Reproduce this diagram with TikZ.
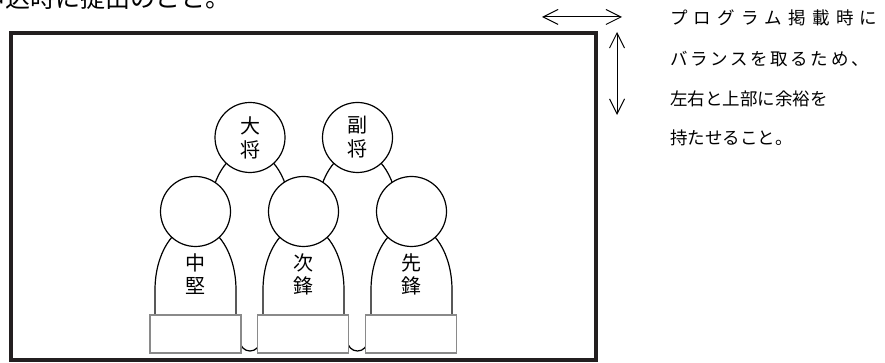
\documentclass[tikz,border=0pt]{standalone}
\usepackage{fontspec}
\setmainfont{Noto Sans CJK JP}
\usepackage{xcolor}
\usetikzlibrary{arrows.meta,positioning}
\definecolor{FrameBlack}{HTML}{231F20}
\definecolor{DeskGray}{HTML}{8A8A8A}
\tikzset{
  kdhead/.style={draw=black, fill=white, circle, minimum size=70pt, inner sep=0pt, line width=1.2pt, align=center, font=\fontsize{20}{24}\selectfont},
  kdbody/.style={draw=black, fill=white, line width=1.2pt},
  kdlabel/.style={align=center, inner sep=0pt, font=\fontsize{20}{23}\selectfont},
  kddesk/.style={draw=DeskGray, fill=white, line width=1.3pt, minimum width=91pt, minimum height=38pt, inner sep=0pt},
  kdframe/.style={draw=FrameBlack, line width=3.5pt},
  kdnote/.style={anchor=base west, inner sep=0pt, font=\fontsize{17.5}{20}\selectfont},
  kdarrow/.style={{Straight Barb[length=15pt,width=15pt]}-{Straight Barb[length=15pt,width=15pt]}, line width=1pt}
}
\begin{document}
\begin{tikzpicture}[x=1pt, y=1pt]
  \useasboundingbox (0,0) rectangle (885,363);
  \clip (0,0) rectangle (885,363);
  \node[anchor=base east, inner sep=0pt, font=\fontsize{25}{28}\selectfont] (deadline) at (231,355) {申込時に提出のこと。};
  \draw[kdframe] (11,3) rectangle (596,330);
  % back row
  \filldraw[kdbody] (209.5,22) -- (209.5,147) arc[start angle=180, end angle=0, x radius=40.5, y radius=65] -- (290.5,22) -- (260,22) arc[start angle=0, end angle=-180, radius=10] -- cycle;
  \filldraw[kdbody] (317,22) -- (317,147) arc[start angle=180, end angle=0, x radius=40.5, y radius=65] -- (398,22) -- (367.5,22) arc[start angle=0, end angle=-180, radius=10] -- cycle;
  \node[kdhead] (taisho) at (250,225.5) {大\\将};
  \node[kdhead] (fukusho) at (357.5,225.5) {副\\将};
  % front row
  \filldraw[kdbody] (155,48) -- (155,73) arc[start angle=180, end angle=0, x radius=40.5, y radius=65] -- (236,48);
  \filldraw[kdbody] (263,48) -- (263,73) arc[start angle=180, end angle=0, x radius=40.5, y radius=65] -- (344,48);
  \filldraw[kdbody] (371,48) -- (371,73) arc[start angle=180, end angle=0, x radius=40.5, y radius=65] -- (452,48);
  \node[kdhead] (chuken) at (195.5,151.5) {};
  \node[kdhead] (jiho) at (303.5,151.5) {};
  \node[kdhead] (senpo) at (411.5,151.5) {};
  \node[kdlabel] (chukenlbl) at (195.5,88.5) {中\\堅};
  \node[kdlabel] (jiholbl) at (303.5,88.5) {次\\鋒};
  \node[kdlabel] (senpolbl) at (411.5,88.5) {先\\鋒};
  \node[kddesk] (chukendesk) at (195.5,29) {};
  \node[kddesk] (jihodesk) at (303,29) {};
  \node[kddesk] (senpodesk) at (411,29) {};
  % margins note
  \coordinate (hleft) at (542,346);
  \coordinate (hright) at (622,346);
  \coordinate (vtop) at (617,331);
  \coordinate (vbottom) at (617,248);
  \draw[kdarrow] (hleft) -- (hright);
  \draw[kdarrow] (vtop) -- (vbottom);
  \node[kdnote] (note1) at (670,338) {\makebox[207pt][s]{プ ロ グ ラ ム 掲 載 時 に}};
  \node[kdnote] (note2) at (670,297) {\makebox[197pt][s]{バ ラ ン ス を 取 る た め 、}};
  \node[kdnote] (note3) at (670,257) {左右と上部に余裕を};
  \node[kdnote] (note4) at (670,218) {持たせること。};
\end{tikzpicture}
\end{document}
